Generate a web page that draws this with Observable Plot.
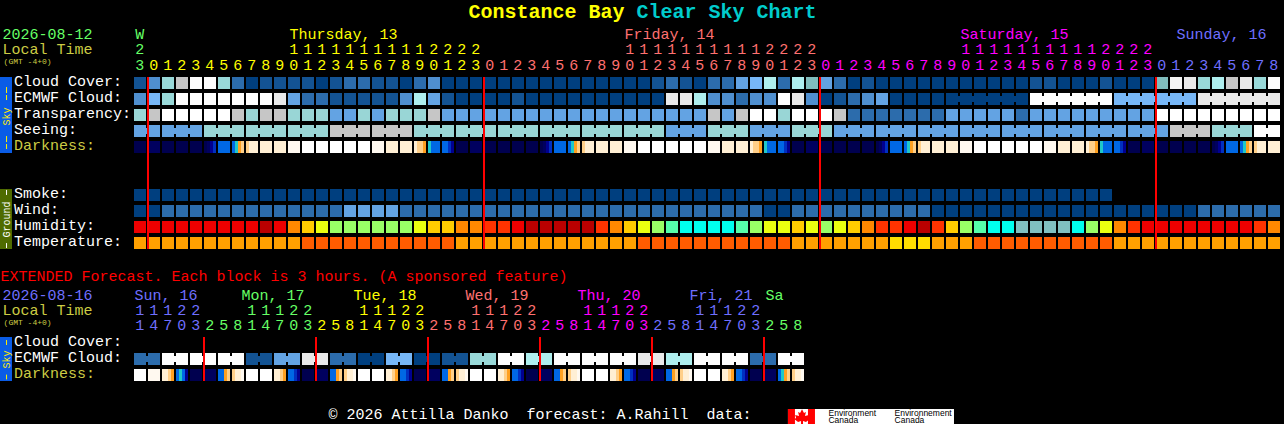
<!DOCTYPE html>
<html><head><meta charset="utf-8">
<script src="https://cdn.jsdelivr.net/npm/d3@7"></script>
<script src="https://cdn.jsdelivr.net/npm/@observablehq/plot@0.6"></script>
<style>html,body{margin:0;padding:0;background:#000;overflow:hidden}svg{display:block}</style>
</head><body><div id="chart"></div>
<script>
// ---------- values ----------
const titleParts = ["Constance Bay", "Clear Sky Chart"];
const cloudCover = [10,30,60,80,100,100,60,20,0,10,10,10,10,0,10,20,20,10,10,0,20,30,0,0,0,0,0,0,0,0,0,0,0,0,0,0,0,10,20,10,0,20,20,40,50,70,20,70,65,40,20,0,10,0,0,0,0,0,0,0,0,0,0,0,10,10,0,0,0,10,0,0,0,65,95,90,60,70,80,90,60,100];
const ecmwfCloud = [30,50,60,100,100,100,100,100,100,100,90,40,20,20,10,10,10,10,10,30,70,40,10,0,0,0,0,10,0,0,0,0,0,0,0,0,0,0,90,90,70,30,30,20,30,30,100,90,30,0,10,20,30,40,0,0,0,0,0,0,0,0,0,0,100,100,100,100,100,100,50,50,50,50,50,50,90,90,90,90,90,90];
const transparency = [3,4,5,5,5,5,5,4,3,4,4,3,3,3,2,2,3,2,3,3,3,4,2,2,2,2,2,2,2,2,2,2,2,2,2,2,2,2,2,2,2,4,2,4,5,5,3,5,5,5,4,1,1,1,1,1,1,1,2,2,2,2,2,1,2,2,2,2,2,2,2,2,2,5,5,5,5,5,5,5,5,5];
const seeing = [2,2,2,2,2,3,3,3,3,3,3,3,3,3,4,4,4,4,4,4,3,3,3,3,3,3,3,3,3,3,3,3,3,3,3,3,3,3,2,2,2,3,3,3,2,2,2,3,3,3,2,2,2,2,2,2,2,2,2,2,2,2,2,2,2,2,2,2,2,2,2,2,2,2,4,4,4,3,3,3,5,5];
// darkness: one level per cell, or the levels across a cell where it changes
const N=0,M=1,B=2,C=3,D=4,T=5,O=6,Y=7,E=8,V=9,W=10;
const darkness = [N,M,N,N,N,
  [N,M,B,C],D,[D,T,O,Y],[Y,E,E,E],E,E,V,W,W,W,W,W,V,E,E,[E,Y,Y,O],[T,D,D,D],[D,D,C,B],N,M,N,N,N,N,
  [N,M,B,C],D,[D,T,O,Y],[Y,E,E,E],E,E,V,W,W,W,W,W,V,E,E,[E,Y,Y,O],[T,D,D,D],[D,D,C,B],N,M,N,N,N,N,
  [N,M,B,C],D,[D,T,O,Y],[Y,E,E,E],E,E,V,W,W,W,W,W,V,E,E,[E,Y,Y,O],[T,D,D,D],[D,D,C,B],N,M,N,N,N,N,
  [N,M,B,C],D,[D,T,O,Y],[Y,E,E,E],E];
const smoke = [0,0,0,0,0,0,0,0,0,0,0,0,0,0,0,0,0,0,0,0,0,0,0,0,0,0,0,0,0,0,0,0,0,0,0,0,0,0,0,0,0,0,0,0,0,0,0,0,0,0,0,0,0,0,0,0,0,0,0,0,0,0,0,0,0,0,0,0,0,0];
const wind = [0,0,1,1,1,1,1,1,1,1,1,1,1,1,1,2,2,2,2,1,1,1,1,1,1,1,1,1,1,1,1,1,1,1,1,1,1,1,1,1,1,1,1,1,1,0,0,1,1,1,1,1,1,1,1,1,1,0,0,0,0,0,0,0,0,0,0,0,0,0,0,0,0,0,0,0,1,1,1,1,1,1];
const humidity = [88,88,88,88,88,88,88,88,88,98,88,72,68,62,58,58,58,58,58,58,62,68,68,72,72,78,78,88,98,98,98,98,98,78,72,68,62,58,52,48,48,48,48,52,58,62,62,68,62,58,62,68,72,78,78,88,98,78,68,58,52,48,48,42,42,42,42,48,58,62,72,78,88,88,88,88,88,88,88,88,78,72];
const temperature = [18,18,18,18,18,18,18,18,18,18,18,18,23,23,23,23,23,23,23,23,23,23,23,18,18,18,18,18,18,18,18,18,18,18,18,18,23,23,23,23,23,23,23,23,23,23,23,18,18,18,18,18,18,18,14,14,14,18,18,18,23,23,23,23,23,23,23,23,23,23,18,18,18,18,18,18,18,18,18,18,18,18];
const extEcmwf = [20,100,100,100,10,40,90,20,0,50,0,10,60,100,70,100,100,100,90,70,100,100,20,100];
const extDarkness = [W,V,[E,E,Y,O],[D,T,D,B],N,M,
  [D,D,O,Y],[Y,E,E,V],W,W,[E,E,Y,O],[D,D,C,B],N,M,
  [D,D,O,Y],[Y,E,E,V],W,W,[E,E,Y,O],[D,D,C,B],N,M,
  [D,D,O,Y],[Y,E,E,V],W,W,[E,E,Y,O],[D,D,C,B],N,M,
  [D,D,O,Y],[Y,E,E,V],W,W,[E,E,Y,O],[D,D,C,B],N,M,
  [D,D,O,Y],[Y,E,E,V],W,W,[E,E,Y,O],[D,D,C,B],N,M,
  [D,T,O,Y],[Y,E,E,V]];
const dayHours = [0,1,2,3,4,5,6,7,8,9,10,11,12,13,14,15,16,17,18,19,20,21,22,23];
const hours = [23,...dayHours,...dayHours,...dayHours,0,1,2,3,4,5,6,7,8];
const extDayHours = [11,14,17,20,23,2,5,8];
const extHours = [...extDayHours,...extDayHours,...extDayHours,...extDayHours,...extDayHours,...extDayHours];
const dayNames = ["Thursday, 13","Friday, 14","Saturday, 15","Sunday, 16"];
const extDayNames = ["Sun, 16","Mon, 17","Tue, 18","Wed, 19","Thu, 20","Fri, 21","Sa"];
const skyNames = ["Cloud Cover:","ECMWF Cloud:","Transparency:","Seeing:","Darkness:"];
const groundNames = ["Smoke:","Wind:","Humidity:","Temperature:"];
const extNames = ["Cloud Cover:","ECMWF Cloud:","Darkness:"];
const footer = "© 2026 Attilla Danko\u00a0\u00a0forecast: A.Rahill\u00a0\u00a0data:";

// ---------- colour tables ----------
const cloudColors = {0:"#003f7f",10:"#135393",20:"#2c6cac",30:"#4f8fcf",40:"#63a3e3",50:"#77b7f7",60:"#99d9d9",65:"#80bcbc",70:"#aeeeee",80:"#c6c6c6",90:"#e9e9e9",95:"#f4f4f4",100:"#fdfdfd"};
const levelColors = {0:"#003f7f",1:"#2c6cac",2:"#63a3e3",3:"#99d6d6",4:"#c6c6c6",5:"#ffffff"};
const darkColors = ["#00004f","#00005f","#000090","#0030c0","#0068e4","#20c8c8","#ffa020","#ffcf88","#ffefd4","#fff9f0","#ffffff"];
const humidColors = {42:"#80c0c0",48:"#00ffee",52:"#55ffaa",58:"#99ff66",62:"#eaff10",68:"#ffcc00",72:"#ff8800",78:"#ff3300",88:"#ee0000",98:"#b90000"};
const tempColors = {14:"#ffdd00",18:"#ffa000",23:"#ff5c00"};
const green="#66ff66",yellow="#ffff00",salmon="#ff7070",magenta="#ff00ff",violet="#6f6fff",khaki="#cccc44";
const dayColors = [green,yellow,salmon,magenta,violet];
const extDayColors = [violet,green,yellow,salmon,magenta,violet,green];

// ---------- tables for the marks ----------
// x is counted in hourly columns, y in 16-pixel rows from the top of the sky block.
const rowOf = {cloud:0,ecmwf:1,trans:2,seeing:3,dark:4,smoke:7,wind:8,humid:9,temp:10,xCloud:16.25,xEcmwf:17.25,xDark:18.25};
const cell = (arr,row,colors) => arr.map((v,i)=>({i,r:rowOf[row],fill:colors[v]}));
const cells = [
  ...cell(cloudCover,"cloud",cloudColors),
  ...cell(ecmwfCloud,"ecmwf",cloudColors),
  ...cell(transparency,"trans",levelColors),
  ...cell(seeing,"seeing",levelColors),
  ...cell(smoke,"smoke",levelColors),
  ...cell(wind,"wind",levelColors),
  ...cell(humidity,"humid",humidColors),
  ...cell(temperature,"temp",tempColors),
  ...cell(extEcmwf.flatMap(v=>[v,v]),"xEcmwf",cloudColors)
];
const strips = (arr,row) => arr.flatMap((v,i)=>{
  const list = Array.isArray(v)?v:[v];
  return list.map((l,k)=>({i,k,n:list.length,r:rowOf[row],fill:darkColors[l]}));
});
const darkCells = [...strips(darkness,"dark"),...strips(extDarkness,"xDark")];
// bridges join the cells of one forecast block
const bridges = [
  ...cell(seeing,"seeing",levelColors).filter(d=>d.i<81&&d.i%3!==1),
  ...cell(ecmwfCloud,"ecmwf",cloudColors).filter(d=>d.i>=58&&d.i<81&&(d.i-58)%6!==5),
  ...extEcmwf.map((v,p)=>({i:p*2,r:rowOf.xEcmwf,fill:cloudColors[v]}))
];
const midnight = [1,25,49,73];
const extMidnight = [5,13,21,29,37,45];
const dayStart = [11.07,35,59,74.43];
const extDayStart = [0,7.64,15.64,23.64,31.64,39.64,45.07];
const hourLabels = hours.map((h,i)=>({i,h,fill:dayColors[i===0?0:1+Math.floor((i-1)/24)]}));
const extLabels = extHours.map((h,i)=>({i,h,fill:extDayColors[Math.floor((i+3)/8)]}));

const mono = "'Liberation Mono','DejaVu Sans Mono',monospace";
const sans = "'Liberation Sans',sans-serif";
const text = (data,o) => Plot.text(data,{fontFamily:mono,fontSize:15,textAnchor:"start",lineAnchor:"middle",...o});
const side = (t,y,fill) => Plot.text([t],{x:BARC,y,text:d=>d,rotate:-90,fontFamily:mono,fontSize:10,fill});
const dash = (y1,y2,stroke,dashes) => Plot.ruleX([BARC],{x:d=>d,y1,y2,stroke,strokeWidth:1,strokeDasharray:dashes});
const X0=-134/14, XEND=(1284-134)/14, BAR=-122/14, BARC=-9.14;
const nameFill = d => d.t==="Darkness:"?khaki:"#ffffff";
const leaf = {draw(c,s){const u=Math.sqrt(s)/9;
  [[0,-8],[2,-4],[4,-5],[3,-1],[7,-2],[6,1],[8,2],[4,5],[1,4],[1,8],[-1,8],[-1,4],[-4,5],[-8,2],[-6,1],[-7,-2],[-3,-1],[-4,-5],[-2,-4]]
    .forEach(([a,b],k)=>k?c.lineTo(a*u,b*u):c.moveTo(a*u,b*u));c.closePath();}};

const plot = Plot.plot({
  width:1284,height:424,margin:0,
  style:{background:"#000"},
  x:{type:"linear",domain:[X0,XEND],range:[0,1284],axis:null},
  y:{type:"linear",domain:[-77/16,347/16],range:[0,424],axis:null},
  color:{type:"identity"},
  marks:[
    Plot.rect([{y1:0,y2:4.75,fill:"#0a5ce6"},{y1:7,y2:10.75,fill:"#4f6b00"},{y1:16.25,y2:19,fill:"#0a5ce6"}],{x1:X0,x2:BAR,y1:"y1",y2:"y2",fill:"fill"}),
    Plot.rect(cells,{x1:d=>d.i,x2:d=>d.i+12/14,y1:d=>d.r,y2:d=>d.r+.75,fill:"fill"}),
    Plot.rect(darkCells,{x1:d=>d.i+(d.k/d.n)*12/14,x2:d=>d.i+((d.k+1)/d.n)*12/14,y1:d=>d.r,y2:d=>d.r+.75,fill:"fill"}),
    Plot.rect(bridges,{x1:d=>d.i+12/14,x2:d=>d.i+1,y1:d=>d.r+.1875,y2:d=>d.r+.5625,fill:"fill"}),
    Plot.ruleX(midnight,{x:d=>d,y1:0,y2:10.75,stroke:"#ff0000",strokeWidth:2,dx:-.5}),
    Plot.ruleX(extMidnight,{x:d=>d,y1:16.25,y2:19,stroke:"#ff0000",strokeWidth:2,dx:-.5}),
    text(skyNames.map((t,k)=>({t,r:k})),{x:-8.6,y:d=>d.r+.24,text:"t",fill:nameFill}),
    text(groundNames.map((t,k)=>({t,r:7+k})),{x:-8.6,y:d=>d.r+.24,text:"t",fill:nameFill}),
    text(extNames.map((t,k)=>({t,r:16.25+k})),{x:-8.6,y:d=>d.r+.24,text:"t",fill:nameFill}),
    Plot.text([titleParts[0]],{x:23.86,y:-4.1,text:d=>d,textAnchor:"start",fontFamily:mono,fontWeight:"bold",fontSize:20,fill:"#ffff00"}),
    Plot.text([titleParts[1]],{x:35.86,y:-4.1,text:d=>d,textAnchor:"start",fontFamily:mono,fontWeight:"bold",fontSize:20,fill:"#00cccc"}),
    text(["2026-08-12"],{x:-9.43,y:-2.68,text:d=>d,fill:green}),
    text(["Local Time"],{x:-9.43,y:-1.74,text:d=>d,fill:khaki}),
    text(["(GMT -4+0)"],{x:-9.35,y:-.98,text:d=>d,fontSize:8,fill:khaki}),
    text(["2026-08-16"],{x:-9.43,y:13.62,text:d=>d,fill:violet}),
    text(["Local Time"],{x:-9.43,y:14.56,text:d=>d,fill:khaki}),
    text(["(GMT -4+0)"],{x:-9.35,y:15.3,text:d=>d,fontSize:8,fill:khaki}),
    text(["W"],{x:.05,y:-2.68,text:d=>d,fill:green}),
    text(dayNames.map((t,k)=>({t,i:dayStart[k],fill:dayColors[k+1]})),{x:"i",y:-2.68,text:"t",fill:"fill"}),
    text(hourLabels.filter(d=>d.h>=10),{x:d=>d.i+.05,y:-1.74,text:d=>String(d.h)[0],fill:"fill"}),
    text(hourLabels,{x:d=>d.i+.05,y:-.78,text:d=>String(d.h%10),fill:"fill"}),
    text(["EXTENDED Forecast. Each block is 3 hours. (A sponsored feature)"],{x:X0,y:12.43,text:d=>d,fill:"#ff0000"}),
    text(extDayNames.map((t,k)=>({t,i:extDayStart[k],fill:extDayColors[k]})),{x:"i",y:13.62,text:"t",fill:"fill"}),
    text(extLabels.filter(d=>d.h>=10),{x:d=>d.i+.05,y:14.56,text:d=>String(d.h)[0],fill:"fill"}),
    text(extLabels,{x:d=>d.i+.05,y:15.5,text:d=>String(d.h%10),fill:"fill"}),
    side("Sky",2.44,"#ffee00"),dash(.625,1.44,"#ffee00","6,2"),dash(3.69,4.5,"#ffee00","6,2"),
    side("Ground",8.88,"#ffffff"),dash(7.06,7.38,"#ffffff","5"),dash(10.38,10.69,"#ffffff","5"),
    side("Sky",17.63,"#ffee00"),dash(16.44,16.75,"#ffee00","5"),dash(18.6,18.9,"#ffee00","5"),
    text([footer],{x:13.86,y:21.06,text:d=>d,fill:"#ffffff"}),
    Plot.rect([0],{x1:46.71,x2:58.57,y1:20.75,y2:347/16,fill:"#ffffff"}),
    Plot.rect([0,1],{x1:d=>d?48.14:46.71,x2:d=>d?48.64:47.21,y1:20.75,y2:347/16,fill:"#ff0000"}),
    Plot.dot([0],{x:47.68,y:21.22,r:5,symbol:leaf,fill:"#ff0000"}),
    Plot.text(["Environment","Canada"],{x:49.57,y:(d,k)=>20.97+k*.47,text:d=>d,textAnchor:"start",fontFamily:sans,fontSize:8.5,fill:"#000"}),
    Plot.text(["Environnement","Canada"],{x:54.29,y:(d,k)=>20.97+k*.47,text:d=>d,textAnchor:"start",fontFamily:sans,fontSize:8.5,fill:"#000"})
  ]
});
document.getElementById("chart").append(plot);
</script></body></html>
